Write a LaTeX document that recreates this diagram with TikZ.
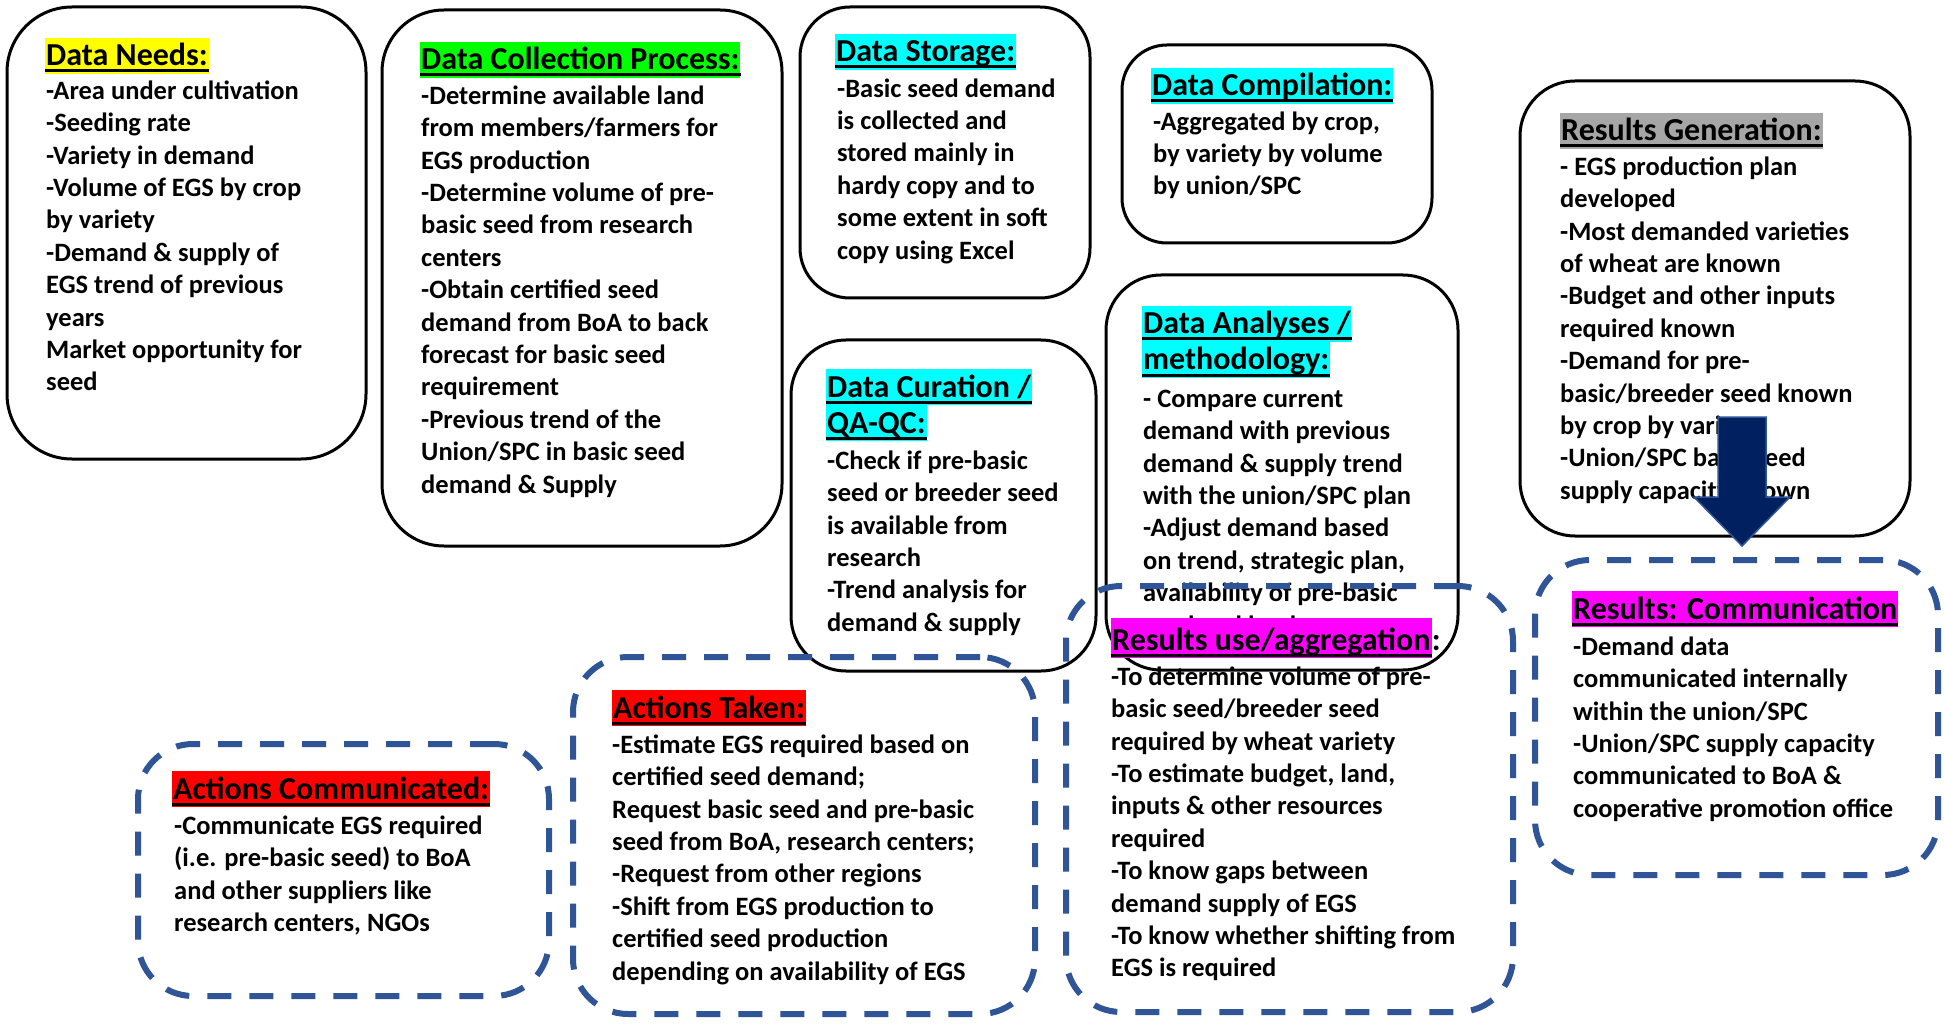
\documentclass[tikz,border=0pt]{standalone}
\usepackage{fontspec}
\setmainfont{Carlito}
\definecolor{dashblue}{RGB}{47,85,151}
\definecolor{navyfill}{RGB}{0,32,96}
\definecolor{hlyellow}{RGB}{255,255,0}
\definecolor{hlgreen}{RGB}{0,255,0}
\definecolor{hlcyan}{RGB}{0,255,255}
\definecolor{hlgray}{RGB}{166,166,166}
\definecolor{hlmagenta}{RGB}{255,0,255}
\definecolor{hlred}{RGB}{255,0,0}
\newcommand\bodyfnt{\fontsize{26.5}{32.4}\selectfont\bfseries}
\newcommand\titlefnt{\fontsize{32}{36}\selectfont\bfseries}
\begin{document}
\begin{tikzpicture}[x=1pt,y=-1pt,
  solidbox/.style={draw=black,line width=3pt,rounded corners=#1,inner sep=0pt},
  solidbox/.default=55pt,
  dashbox/.style={draw=dashblue,line width=6pt,dash pattern=on 24pt off 18pt,rounded corners=55pt,inner sep=0pt},
  ttl/.style={fill=#1,font=\titlefnt,inner xsep=1pt,inner ysep=0pt,text height=28pt,text depth=8pt,anchor=base west},
  body/.style={font=\bodyfnt,inner sep=0pt,anchor=north west,align=left},
  uline/.style={line width=3pt,black}]
\useasboundingbox (0,0) rectangle (1944,1024);
\fill[white] (0,0) rectangle (1944,1024);

% ---------- solid boxes ----------
% Data needs
\node[solidbox=65pt,minimum width=359pt,minimum height=452pt] (needs) at (186.5,233) {};
\node[ttl=hlyellow] (needsT) at (45,66) {Data Needs:};
\draw[uline] ([yshift=-5pt]needsT.base west) -- ([yshift=-5pt]needsT.base east);
\node[body] (needsB) at (46,99-22.68) {\strut-Area under cultivation\\-Seeding rate\\-Variety in demand\\-Volume of EGS by crop\\by variety\\-Demand \& supply of\\EGS trend of previous\\years\\Market opportunity for\\seed};

% Data collection process
\node[solidbox=62pt,minimum width=400pt,minimum height=536pt] (collect) at (582,278) {};
\node[ttl=hlgreen] (collectT) at (420,70) {Data Collection Process:};
\draw[uline] ([yshift=-5pt]collectT.base west) -- ([yshift=-5pt]collectT.base east);
\node[body] (collectB) at (421,104-22.68) {\strut-Determine available land\\from members/farmers for\\EGS production\\-Determine volume of pre-\\basic seed from research\\centers\\-Obtain certified seed\\demand from BoA to back\\forecast for basic seed\\requirement\\-Previous trend of the\\Union/SPC in basic seed\\demand \& Supply};

% Data storage
\node[solidbox=50pt,minimum width=290pt,minimum height=291pt] (storage) at (945,152.5) {};
\node[ttl=hlcyan] (storageT) at (835,62) {Data Storage:};
\draw[uline] ([yshift=-5pt]storageT.base west) -- ([yshift=-5pt]storageT.base east);
\node[body] (storageB) at (837,97-22.68) {\strut-Basic seed demand\\is collected and\\stored mainly in\\hardy copy and to\\some extent in soft\\copy using Excel};

% Data compilation
\node[solidbox=45pt,minimum width=310pt,minimum height=198pt] (compil) at (1277,144) {};
\node[ttl=hlcyan] (compilT) at (1151,96) {Data Compilation:};
\draw[uline] ([yshift=-5pt]compilT.base west) -- ([yshift=-5pt]compilT.base east);
\node[body] (compilB) at (1153,130-22.68) {\strut-Aggregated by crop,\\by variety by volume\\by union/SPC};

% Results generation
\node[solidbox=55pt,minimum width=390pt,minimum height=455pt] (resgen) at (1715,308.5) {};
\node[ttl=hlgray] (resgenT) at (1560,141) {Results Generation:};
\draw[uline] ([yshift=-5pt]resgenT.base west) -- ([yshift=-5pt]resgenT.base east);
\node[body] (resgenB) at (1560,175-22.68) {\strut- EGS production plan\\developed\\-Most demanded varieties\\of wheat are known\\-Budget and other inputs\\required known\\-Demand for pre-\\basic/breeder seed known\\by crop by variety\\-Union/SPC basic seed\\supply capacity known};

% Data curation
\node[solidbox=55pt,minimum width=305pt,minimum height=331pt] (curation) at (943.5,505.5) {};
\node[ttl=hlcyan] (curationT) at (826,397) {Data Curation /};
\draw[uline] ([yshift=-5pt]curationT.base west) -- ([yshift=-5pt]curationT.base east);
\node[ttl=hlcyan] (curationT2) at (826,433) {QA-QC:};
\draw[uline] ([yshift=-5pt]curationT2.base west) -- ([yshift=-5pt]curationT2.base east);
\node[body] (curationB) at (827,469-22.68) {\strut-Check if pre-basic\\seed or breeder seed\\is available from\\research\\-Trend analysis for\\demand \& supply};

% Data analyses
\node[solidbox=55pt,minimum width=352pt,minimum height=395pt] (analyses) at (1282,472.5) {};
\node[ttl=hlcyan] (analysesT) at (1142,334) {Data Analyses /};
\draw[uline] ([yshift=-5pt]analysesT.base west) -- ([yshift=-5pt]analysesT.base east);
\node[ttl=hlcyan] (analysesT2) at (1142,370) {methodology:};
\draw[uline] ([yshift=-5pt]analysesT2.base west) -- ([yshift=-5pt]analysesT2.base east);
\node[body] (analysesB) at (1143,407-22.68) {\strut- Compare current\\demand with previous\\demand \& supply trend\\with the union/SPC plan\\-Adjust demand based\\on trend, strategic plan,\\availability of pre-basic\\seed and land};

% ---------- dashed boxes ----------
% Results communication
\node[dashbox,minimum width=403pt,minimum height=315pt] (rescom) at (1736.5,717.5) {};
\node[ttl=hlmagenta] (rescomT) at (1572,619) {Results: Communication};
\draw[uline] ([yshift=-5pt]rescomT.base west) -- ([yshift=-5pt]rescomT.base east);
\node[body] (rescomB) at (1573,655-22.68) {\strut-Demand data\\communicated internally\\within the union/SPC\\-Union/SPC supply capacity\\communicated to BoA \&\\cooperative promotion office};

% Results use / aggregation (its heading sits over the last line of the analyses box)
\node[dashbox,minimum width=447pt,minimum height=426pt] (resuse) at (1289.5,799) {};
\node[ttl=hlmagenta,text height=32pt] (resuseT) at (1111,650) {Results use/aggregation};
\draw[uline] ([yshift=-5pt]resuseT.base west) -- ([yshift=-5pt]resuseT.base east);
\node[font=\titlefnt,inner sep=0pt,anchor=base west] (resuseC) at (resuseT.base east) {:};
\node[body] (resuseB) at (1111,685-22.68) {\strut-To determine volume of pre-\\basic seed/breeder seed\\required by wheat variety\\-To estimate budget, land,\\inputs \& other resources\\required\\-To know gaps between\\demand supply of EGS\\-To know whether shifting from\\EGS is required};

% Actions taken
\node[dashbox,minimum width=462pt,minimum height=357pt] (acttaken) at (804,835.5) {};
\node[ttl=hlred] (acttakenT) at (612,718) {Actions Taken:};
\draw[uline] ([yshift=-5pt]acttakenT.base west) -- ([yshift=-5pt]acttakenT.base east);
\node[body] (acttakenB) at (612,753-22.68) {\strut-Estimate EGS required based on\\certified seed demand;\\Request basic seed and pre-basic\\seed from BoA, research centers;\\-Request from other regions\\-Shift from EGS production to\\certified seed production\\depending on availability of EGS};

% Actions communicated
\node[dashbox,minimum width=411pt,minimum height=252pt] (actcom) at (343.5,870) {};
\node[ttl=hlred] (actcomT) at (172,799) {Actions Communicated:};
\draw[uline] ([yshift=-5pt]actcomT.base west) -- ([yshift=-5pt]actcomT.base east);
\node[body] (actcomB) at (174,834-22.68) {\strut-Communicate EGS required\\(i.e. pre-basic seed) to BoA\\and other suppliers like\\research centers, NGOs};

% ---------- block arrow from results generation down to communication ----------
\filldraw[fill=navyfill,draw=dashblue,line width=1.5pt,line join=miter]
  (1718,417) -- (1766,417) -- (1766,497) -- (1790,497) -- (1742,546)
  -- (1694,497) -- (1718,497) -- cycle;
\end{tikzpicture}
\end{document}
